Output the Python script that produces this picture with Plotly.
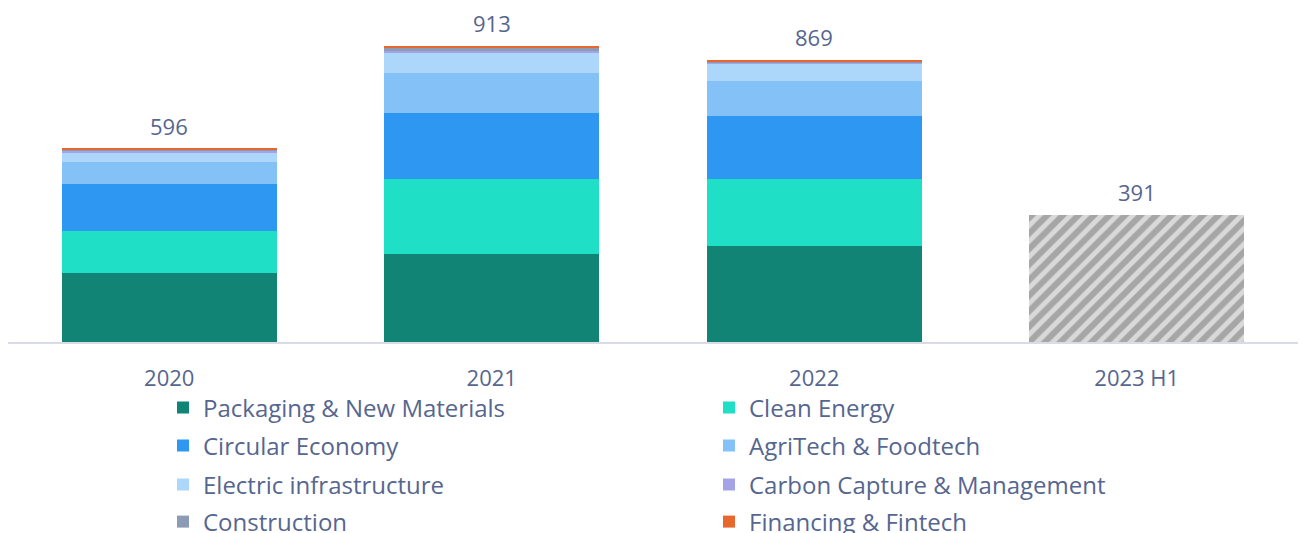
import plotly.graph_objects as go

categories = ["2020", "2021", "2022", "2023 H1"]
series_names = [
    "Packaging & New Materials", "Clean Energy", "Circular Economy", "AgriTech & Foodtech",
    "Electric infrastructure", "Carbon Capture & Management", "Construction", "Financing & Fintech",
]
packaging = [213, 271, 296, None]
clean_energy = [130, 231, 207, None]
circular = [143, 203, 195, None]
agritech = [68, 126, 107, None]
electric = [31, 61, 53, None]
carbon = [5, 5, 5, None]
construction = [3, 12, 3, None]
fintech = [3, 4, 3, None]
h1_total = [None, None, None, 391]
totals = [596, 913, 869, 391]

colors = ["#128476", "#1fdfc7", "#2e97f2", "#83c1f7", "#acd6fa", "#a3a3e6", "#8a9bb3", "#e8672c"]
series_vals = [packaging, clean_energy, circular, agritech, electric, carbon, construction, fintech]
# rows: (Packaging, Clean), (Circular, Agri), (Electric, Carbon), (Construction, Fintech)
row_of = [0, 0, 1, 1, 2, 2, 3, 3]
legend_names = ["legend", "legend2", "legend3", "legend4"]

TEXT = "#56668f"
FONT = "Open Sans"

fig = go.Figure()
for i, (name, vals, col) in enumerate(zip(series_names, series_vals, colors)):
    fig.add_trace(go.Bar(
        x=categories, y=vals, name=name, marker_color=col,
        marker_line_width=0, legend=legend_names[row_of[i]],
    ))

fig.add_trace(go.Bar(
    x=categories, y=h1_total, name="2023 H1", showlegend=False,
    marker=dict(color="#d9d9d9", line=dict(width=0),
                pattern=dict(shape="/", fgcolor="#737373", bgcolor="#d9d9d9",
                             size=11, solidity=0.55)),
))

for i, t in enumerate(totals):
    fig.add_annotation(x=i, y=t, xref="x", yref="y", text=str(t), showarrow=False,
                       yanchor="bottom", yshift=6,
                       font=dict(family=FONT, size=22, color=TEXT))

row_y = [408, 446, 485, 522]
legends = {}
for k, ln in enumerate(legend_names):
    legends[ln] = dict(
        orientation="h", entrywidth=501, entrywidthmode="pixels",
        xref="container", yref="container", x=163 / 1304, y=1 - row_y[k] / 533,
        xanchor="left", yanchor="middle", bgcolor="rgba(0,0,0,0)",
        font=dict(family=FONT, size=24, color=TEXT), traceorder="normal",
    )

fig.update_layout(
    width=1304, height=533, barmode="stack", bargap=1/3,
    plot_bgcolor="white", paper_bgcolor="white",
    margin=dict(l=8, r=6, t=10, b=191, autoexpand=False),
    font=dict(family=FONT, size=22, color=TEXT),
    xaxis=dict(type="category", range=[-0.5, 3.5], showline=True, linecolor="#d9dce6",
               linewidth=2, ticks="", ticklabelstandoff=16, automargin=False,
               tickfont=dict(family=FONT, size=22, color=TEXT), showgrid=False),
    yaxis=dict(range=[0, 1024], visible=False, showgrid=False, zeroline=False),
    **legends,
)

fig.write_html("out.html")
